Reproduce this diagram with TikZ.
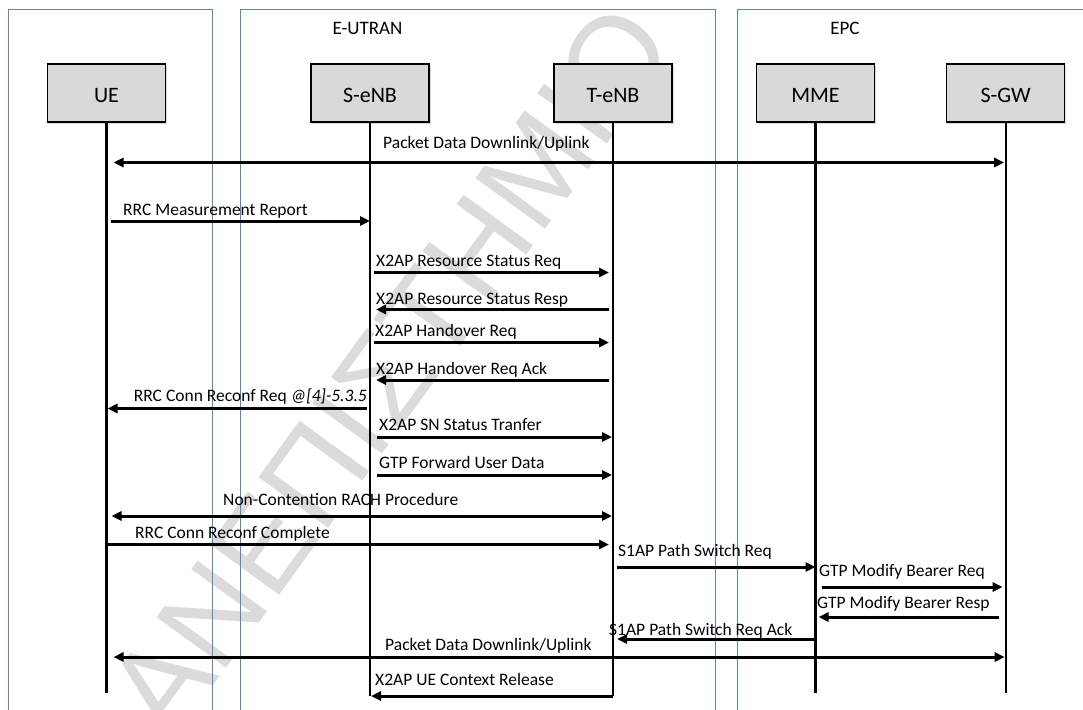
\documentclass[tikz,border=0pt]{standalone}
\usepackage{fontspec}
\setmainfont{Carlito}
\newfontfamily\wmfont{Liberation Sans}
\usetikzlibrary{arrows.meta,shadows}
\definecolor{laneblue}{RGB}{84,134,194}
\definecolor{boxgray}{RGB}{217,217,217}
\definecolor{wmgray}{RGB}{219,219,219}
\begin{document}
\begin{tikzpicture}[x=1pt,y=-1pt,
  lane/.style={draw=laneblue, line width=1pt},
  actor/.style={draw=black, line width=1.4pt, fill=boxgray, minimum width=118pt,
    minimum height=58pt, inner sep=0pt, text height=18pt, text depth=0pt,
    font=\fontsize{22}{26}\selectfont,
    drop shadow={shadow xshift=1.5pt, shadow yshift=-1.5pt, opacity=0.3}},
  life/.style={draw=black, line width=2.2pt},
  msg/.style={draw=black, line width=3pt, -{Triangle[length=10pt,width=9pt]}},
  bimsg/.style={draw=black, line width=3pt, {Triangle[length=10pt,width=9pt]}-{Triangle[length=10pt,width=9pt]}},
  lbl/.style={inner sep=0pt, font=\fontsize{17.5}{20}\selectfont, anchor=base west},
  lblr/.style={lbl, anchor=base east},
  grp/.style={inner sep=0pt, font=\fontsize{19}{22}\selectfont, anchor=base},
  wm/.style={inner sep=0pt, text=wmgray, font=\wmfont\fontsize{125}{125}\selectfont},
]
\useasboundingbox (0,0) rectangle (1083,709);
\fill[white] (0,0) rectangle (1083,709);

% watermark
\node[wm, rotate=54] (wmark) at (390,370) {ΑΝΕΠΙΣΤΗΜΙΟ};

% swimlanes
\draw[lane] (8,720) -- (8,10) -- (212,10) -- (212,720);
\draw[lane] (240,720) -- (240,10) -- (715,10) -- (715,720);
\draw[lane] (737,720) -- (737,10) -- (1090,10);
\node[grp] (eutran) at (367.5,34.6) {E-UTRAN};
\node[grp] (epc) at (845,35) {EPC};

% actors
\node[actor] (ue)  at (106.5,93) {UE};
\node[actor] (se)  at (370,93)   {S-eNB};
\node[actor] (te)  at (613,93)   {T-eNB};
\node[actor] (mme) at (815.5,93) {MME};
\node[actor] (sgw) at (1005.7,93){S-GW};

% lifelines
\coordinate (ueend)  at (ue |- 0,693);
\coordinate (seend)  at (se |- 0,696);
\coordinate (teend)  at (te |- 0,696);
\coordinate (mmeend) at (mme |- 0,693);
\coordinate (sgwend) at (sgw |- 0,693);
\draw[life] (ue.south) -- (ueend);
\draw[life] (se.south) -- (seend);
\draw[life] (te.south) -- (teend);
\draw[life] (mme.south) -- (mmeend);
\draw[life] (sgw.south) -- (sgwend);

% messages
\node[lbl] (l1) at (383,148.5) {Packet Data Downlink/Uplink};
\draw[bimsg, shorten <=7pt, shorten >=1.5pt] (ue |- 0,162.5) -- (sgw |- 0,162.5);

\node[lbl] (l2) at (123,215) {RRC Measurement Report};
\draw[msg, shorten <=4pt] (ue |- 0,221) -- (se |- 0,221);

\node[lbl] (l3) at (376,266.7) {X2AP Resource Status Req};
\draw[msg, shorten <=4pt, shorten >=4pt] (se |- 0,272.5) -- (te |- 0,272.5);

\node[lbl] (l4) at (376,304) {X2AP Resource Status Resp};
\draw[msg, shorten <=4pt, shorten >=6pt] (te |- 0,309.5) -- (se |- 0,309.5);

\node[lbl] (l5) at (375,336.7) {X2AP Handover Req};
\draw[msg, shorten <=4pt, shorten >=4pt] (se |- 0,342.5) -- (te |- 0,342.5);

\node[lbl] (l6) at (376,374) {X2AP Handover Req Ack};
\draw[msg, shorten <=4pt, shorten >=6pt] (te |- 0,380) -- (se |- 0,380);

\node[lblr] (l7) at (367,401.7) {RRC Conn Reconf Req \textit{@[4]-5.3.5}};
\draw[msg, shorten <=3pt, shorten >=1pt] (se |- 0,408.5) -- (ue |- 0,408.5);

\node[lbl] (l8) at (379,430) {X2AP SN Status Tranfer};
\draw[msg, shorten <=7pt, shorten >=1pt] (se |- 0,437) -- (te |- 0,437);

\node[lbl] (l9) at (379,468.3) {GTP Forward User Data};
\draw[msg, shorten <=7pt, shorten >=1pt] (se |- 0,475) -- (te |- 0,475);

\node[lbl] (l10) at (223,505) {Non-Contention RACH Procedure};
\draw[bimsg, shorten <=5pt, shorten >=1pt] (ue |- 0,516) -- (te |- 0,516);

\node[lbl] (l11) at (135,538.3) {RRC Conn Reconf Complete};
\draw[msg, shorten <=1pt, shorten >=4pt] (ue |- 0,544.5) -- (te |- 0,544.5);

\node[lbl] (l12) at (618,556.7) {S1AP Path Switch Req};
\draw[msg, shorten <=4pt] (te |- 0,567) -- (mme |- 0,567);

\node[lbl] (l13) at (819,576.7) {GTP Modify Bearer Req};
\draw[msg, shorten <=6pt, shorten >=3pt] (mme |- 0,587) -- (sgw |- 0,587);

\node[lbl] (l14) at (817,608.3) {GTP Modify Bearer Resp};
\draw[msg, shorten <=7pt, shorten >=3pt] (sgw |- 0,617) -- (mme |- 0,617);

\node[lbl] (l15) at (609,635) {S1AP Path Switch Req Ack};
\draw[msg, shorten <=1pt, shorten >=4pt] (mme |- 0,639) -- (te |- 0,639);

\node[lbl] (l16) at (385,650) {Packet Data Downlink/Uplink};
\draw[bimsg, shorten <=7pt, shorten >=1pt] (ue |- 0,657) -- (sgw |- 0,657);

\node[lbl] (l17) at (375,685) {X2AP UE Context Release};
\draw[msg, shorten >=1pt] (teend) -- (seend);
\end{tikzpicture}
\end{document}
